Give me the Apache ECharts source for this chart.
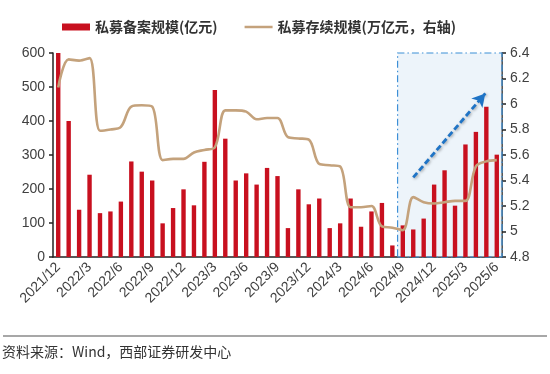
<!DOCTYPE html>
<html>
<head>
<meta charset="utf-8">
<script src="https://cdn.jsdelivr.net/npm/echarts@6/dist/echarts.min.js"></script>
<style>html,body{margin:0;padding:0;background:#fff;}#c{width:550px;height:374px;}</style>
</head>
<body>
<div id="c"></div>
<script>
const categories = ['2021/12','2022/1','2022/2','2022/3','2022/4','2022/5','2022/6','2022/7','2022/8','2022/9','2022/10','2022/11','2022/12',
'2023/1','2023/2','2023/3','2023/4','2023/5','2023/6','2023/7','2023/8','2023/9','2023/10','2023/11','2023/12',
'2024/1','2024/2','2024/3','2024/4','2024/5','2024/6','2024/7','2024/8','2024/9','2024/10','2024/11','2024/12',
'2025/1','2025/2','2025/3','2025/4','2025/5','2025/6'];
const filingScale = [600,400,139,242,129,134,163,281,251,225,99,144,199,
152,280,491,348,225,246,213,262,238,85,199,155,
172,85,99,172,89,134,159,34,93,81,113,213,
255,151,331,368,442,301];
const outstandingScale = [6.13,6.35,6.34,6.36,5.79,5.80,5.82,5.98,5.99,5.98,5.56,5.57,5.57,
5.62,5.64,5.66,5.95,5.95,5.94,5.88,5.89,5.89,5.74,5.73,5.72,
5.53,5.52,5.51,5.19,5.19,5.20,5.04,5.03,5.01,5.27,5.23,5.22,
5.23,5.24,5.24,5.51,5.55,5.56];
const seriesNames = ['私募备案规模(亿元)','私募存续规模(万亿元，右轴)'];
// highlight band (category index range, as band edges) and trend arrow (category position, left-axis value)
const highlightBand = [33, 43];
const arrowStart = [34.5, 234];
const arrowEnd = [41.4, 481];
const sourceText = '资料来源：Wind，西部证券研发中心';

const chart = echarts.init(document.getElementById('c'), null, {renderer:'canvas'});
const axisFont = {fontFamily:'Liberation Sans, Arial, sans-serif', fontSize:14, color:'#404040'};
chart.setOption({
  animation:false,
  backgroundColor:'#fff',
  grid:{left:53, right:48, top:53, bottom:117},
  legend:{
    left:57, top:15, itemWidth:28, itemHeight:7, itemGap:27,
    data:[{name:seriesNames[0], icon:'rect'},{name:seriesNames[1], icon:'path://M0,0L112,0L112,10L0,10Z'}],
    textStyle:{fontFamily:'Noto Sans CJK SC', fontSize:14, fontWeight:'bold', color:'#333'}
  },
  xAxis:[{
    type:'category', data:categories, boundaryGap:true,
    axisLine:{lineStyle:{color:'#222', width:1.5}},
    axisTick:{interval:2, length:4, lineStyle:{color:'#222', width:1.5}},
    axisLabel:Object.assign({interval:2, rotate:45, margin:8}, axisFont),
    splitLine:{show:false}
  },{
    type:'value', min:0, max:categories.length, show:false
  }],
  yAxis:[{
    type:'value', min:0, max:600, interval:100,
    axisLine:{show:true, lineStyle:{color:'#222', width:1.5}},
    axisTick:{show:true, length:4, lineStyle:{color:'#222', width:1.5}},
    axisLabel:Object.assign({margin:8}, axisFont),
    splitLine:{show:false}
  },{
    type:'value', min:4.8, max:6.4, interval:0.2, position:'right',
    axisLine:{show:true, lineStyle:{color:'#222', width:1.5}},
    axisTick:{show:true, length:4, lineStyle:{color:'#222', width:1.5}},
    axisLabel:Object.assign({margin:8}, axisFont),
    splitLine:{show:false}
  }],
  series:[{
    name:'band', type:'line', xAxisIndex:1, yAxisIndex:0, data:[], silent:true,
    z:0,
    markArea:{
      silent:true,
      itemStyle:{color:'rgba(214,230,245,0.45)', borderColor:'#3d8fd6', borderWidth:1.2, borderType:[7,3,1.5,3]},
      data:[[{xAxis:highlightBand[0]},{xAxis:highlightBand[1]}]]
    },
    markLine:{
      silent:true, symbol:['none','arrow'], symbolSize:[11,13],
      label:{show:false},
      lineStyle:{color:'#1f74c6', width:2.8, type:[6,3], shadowBlur:3, shadowColor:'rgba(0,0,0,0.35)', shadowOffsetX:1, shadowOffsetY:1},
      data:[[{coord:arrowStart},{coord:arrowEnd}]]
    }
  },{
    name:seriesNames[0], type:'bar', xAxisIndex:0, yAxisIndex:0, data:filingScale,
    barWidth:'42%', itemStyle:{color:'#c8101f'}, z:2
  },{
    name:seriesNames[1], type:'line', xAxisIndex:0, yAxisIndex:1, data:outstandingScale,
    smooth:0.35, showSymbol:false, symbol:'none',
    lineStyle:{color:'#c4a27c', width:2.6}, itemStyle:{color:'#c4a27c'}, z:3
  }],
  graphic:[
    {type:'line', shape:{x1:3, y1:336, x2:547, y2:336}, style:{stroke:'#8a8a8a', lineWidth:1.5}},
    {type:'text', left:2, top:345, style:{text:sourceText, fontFamily:'Noto Sans CJK SC', fontSize:14, fill:'#333'}}
  ]
});
</script>
</body>
</html>
